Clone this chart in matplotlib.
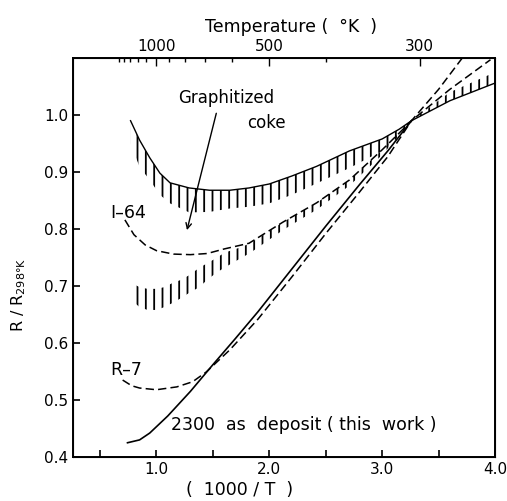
import numpy as np
import matplotlib
matplotlib.use("Agg")
import matplotlib.pyplot as plt

plt.rcParams['font.family'] = ['DejaVu Sans']
plt.rcParams['hatch.linewidth'] = 1.3
plt.rcParams['hatch.color'] = 'black'
plt.rcParams['lines.scale_dashes'] = False

# graphitized coke band: edge line and end of hatch bars
coke_x = [0.77, 0.85, 0.94, 1.03, 1.12, 1.29, 1.47, 1.65, 1.82, 2.0, 2.2, 2.42, 2.71, 3.0, 3.15, 3.26, 3.6, 4.0]
coke_line = [0.99, 0.956, 0.925, 0.898, 0.881, 0.872, 0.868, 0.868, 0.872, 0.879, 0.893, 0.91, 0.937, 0.958, 0.975, 0.99, 1.025, 1.056]
coke_far = [0.95, 0.909, 0.886, 0.86, 0.845, 0.829, 0.83, 0.836, 0.839, 0.845, 0.86, 0.88, 0.907, 0.937, 0.962, 0.99, 1.04, 1.075]

# lower hatched band
mid_x = [0.78, 0.85, 0.92, 1.0, 1.07, 1.14, 1.22, 1.29, 1.38, 1.45, 1.53, 1.6, 1.67, 1.75, 1.83, 2.12, 2.42, 2.71, 3.0, 3.26]
mid_top = [0.705, 0.698, 0.695, 0.695, 0.698, 0.705, 0.711, 0.719, 0.732, 0.74, 0.749, 0.758, 0.763, 0.768, 0.775, 0.812, 0.846, 0.886, 0.939, 0.99]
mid_bot = [0.675, 0.663, 0.658, 0.658, 0.663, 0.67, 0.679, 0.688, 0.698, 0.711, 0.723, 0.732, 0.74, 0.749, 0.758, 0.798, 0.834, 0.876, 0.93, 0.99]

# I-64 (dashed)
i64_x = [0.72, 0.8, 0.9, 1.0, 1.15, 1.3, 1.45, 1.6, 1.82, 2.12, 2.42, 2.71, 3.0, 3.18, 3.26, 3.6, 3.96]
i64_y = [0.816, 0.79, 0.772, 0.762, 0.756, 0.755, 0.757, 0.765, 0.775, 0.812, 0.846, 0.886, 0.939, 0.974, 0.99, 1.045, 1.097]

# R-7 (dashed)
r7_x = [0.7, 0.78, 0.85, 1.0, 1.18, 1.32, 1.44, 1.65, 1.9, 2.2, 2.5, 2.8, 3.05, 3.26, 3.5, 3.71]
r7_y = [0.535, 0.525, 0.521, 0.518, 0.523, 0.532, 0.549, 0.588, 0.642, 0.716, 0.792, 0.865, 0.927, 0.99, 1.045, 1.1]

# 2300 as deposit (solid)
dep_x = [0.743, 0.85, 0.94, 1.1, 1.3, 1.5, 1.7, 1.9, 2.2, 2.5, 2.8, 3.05, 3.26]
dep_y = [0.425, 0.43, 0.442, 0.472, 0.515, 0.562, 0.608, 0.655, 0.73, 0.805, 0.878, 0.937, 0.99]

temp_major = [1000, 500, 300]
temp_minor = [1500, 1400, 1300, 1200, 1100, 900, 800, 700, 600, 400]

fig = plt.figure(figsize=(5.07, 5.01), dpi=100)
ax = fig.add_axes([73/507, 1-457/501, 422/507, 399/501])

dash = (0, (6, 3))
ax.fill_between(coke_x, coke_far, coke_line, facecolor='none', edgecolor='black', hatch='||', linewidth=0)
ax.plot(coke_x, coke_line, color='black', lw=1.0)
ax.fill_between(mid_x, mid_bot, mid_top, facecolor='none', edgecolor='black', hatch='||', linewidth=0)
ax.plot(i64_x, i64_y, color='black', lw=1.1, ls=dash)
ax.plot(r7_x, r7_y, color='black', lw=1.1, ls=dash)
ax.plot(dep_x, dep_y, color='black', lw=1.2)

fs = 11
ax.text(1.62, 1.03, 'Graphitized', fontsize=12, ha='center', va='center')
ax.text(1.80, 0.986, 'coke', fontsize=12, ha='left', va='center')
ax.annotate('', xy=(1.27, 0.798), xytext=(1.53, 1.003),
            arrowprops=dict(arrowstyle='->', color='black', lw=1.0, shrinkA=0, shrinkB=0))
ax.text(0.59, 0.828, 'I–64', fontsize=12.5, ha='left', va='center')
ax.text(0.59, 0.553, 'R–7', fontsize=12.5, ha='left', va='center')
ax.text(1.13, 0.456, '2300  as  deposit ( this  work )', fontsize=12.5, ha='left', va='center')

ax.set_xlim(0.26, 4.0)
ax.set_ylim(0.4, 1.1)
ax.set_xticks([1.0, 2.0, 3.0, 4.0])
ax.set_xticklabels(['1.0', '2.0', '3.0', '4.0'])
ax.set_xticks([0.5, 1.5, 2.5, 3.5], minor=True)
ax.set_yticks([0.4, 0.5, 0.6, 0.7, 0.8, 0.9, 1.0])
ax.set_yticklabels(['0.4', '0.5', '0.6', '0.7', '0.8', '0.9', '1.0'])
ax.tick_params(axis='both', which='both', direction='in', labelsize=fs, width=1.2)
ax.tick_params(axis='both', which='major', length=5)
ax.tick_params(axis='both', which='minor', length=5)
for s in ax.spines.values():
    s.set_linewidth(1.4)

ax2 = ax.twiny()
ax2.set_xlim(ax.get_xlim())
ax2.set_xticks([1000/t for t in temp_major])
ax2.set_xticklabels([str(t) for t in temp_major])
ax2.set_xticks([1000/t for t in temp_minor], minor=True)
ax2.tick_params(axis='x', which='both', direction='in', labelsize=fs, width=1.0, pad=3)
ax2.tick_params(axis='x', which='major', length=6)
ax2.tick_params(axis='x', which='minor', length=3)

fig.text(291/507, 1-27/501, 'Temperature (  °K  )', fontsize=12.5, ha='center', va='center')
fig.text(240/507, 1-490/501, '(  1000 / T  )', fontsize=12.5, ha='center', va='center')
fig.text(19/507, 1-295/501, r'R / R$_{\mathregular{298°K}}$', fontsize=11.5, rotation=90, ha='center', va='center')

fig.savefig('out.png', dpi=100)
